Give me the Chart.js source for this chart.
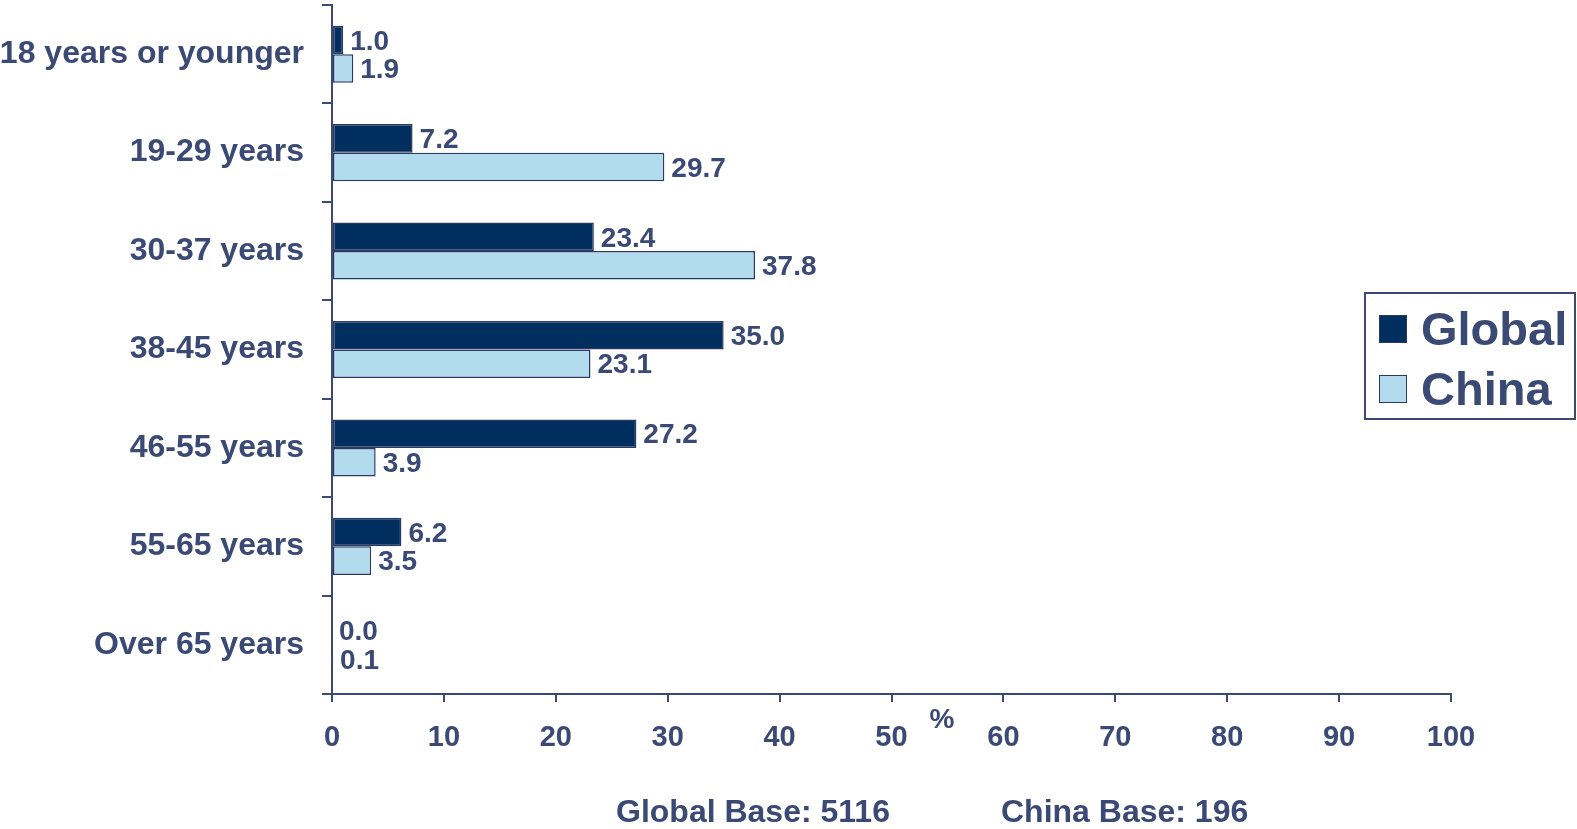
<!DOCTYPE html>
<html>
<head>
<meta charset="utf-8">
<script src="https://cdn.jsdelivr.net/npm/chart.js@4"></script>
<style>
  html, body { margin: 0; padding: 0; background: #fff; }
  #wrap { position: relative; width: 1577px; height: 829px; }
  #legend {
    position: absolute; left: 1364px; top: 292px; width: 208px; height: 124px;
    border: 2px solid #3a4a74; box-sizing: content-box;
    font: bold 47px "Liberation Sans", Arial, sans-serif; color: #3a4a74;
  }
  #legend div { position: absolute; left: 13px; height: 54px; line-height: 54px; }
  #legend span.sw {
    display: inline-block; width: 26px; height: 26px; border: 1.5px solid #2b3a62;
    vertical-align: middle; margin-right: 14px; position: relative; top: -4px;
  }
  .base {
    position: absolute; top: 793px;
    font: bold 32px "Liberation Sans", Arial, sans-serif; color: #3a4a74;
  }
</style>
</head>
<body>
<div id="wrap">
  <canvas id="ageChart" width="1577" height="829"></canvas>
  <div id="legend">
    <div style="top:8px"><span class="sw" style="background:#002f5f"></span>Global</div>
    <div style="top:68px"><span class="sw" style="background:#b2dcee"></span>China</div>
  </div>
  <div class="base" style="left:616px">Global Base: 5116</div>
  <div class="base" style="left:1001px">China Base: 196</div>
</div>
<script>
const categories = [
  '18 years or younger',
  '19-29 years',
  '30-37 years',
  '38-45 years',
  '46-55 years',
  '55-65 years',
  'Over 65 years'
];
const globalValues = [1.0, 7.2, 23.4, 35.0, 27.2, 6.2, 0.0];
const chinaValues = [1.9, 29.7, 37.8, 23.1, 3.9, 3.5, 0.1];
const xTicks = [0, 10, 20, 30, 40, 50, 60, 70, 80, 90, 100];

const textColor = '#3a4a74';
const fontFamily = '"Liberation Sans", Arial, sans-serif';

const valueLabels = {
  id: 'valueLabels',
  afterDatasetsDraw(chart) {
    const c = chart.ctx;
    c.save();
    c.fillStyle = textColor;
    c.font = 'bold 28px ' + fontFamily;
    c.textBaseline = 'middle';
    c.textAlign = 'left';
    chart.data.datasets.forEach((ds, i) => {
      chart.getDatasetMeta(i).data.forEach((bar, j) => {
        c.fillText(ds.data[j].toFixed(1), bar.x + 7, bar.y + 2);
      });
    });
    // percent sign near the axis
    const xs = chart.scales.x;
    c.textAlign = 'center';
    c.fillText('%', xs.getPixelForValue(54.5), xs.top + 26);
    c.restore();
  }
};

new Chart(document.getElementById('ageChart'), {
  type: 'bar',
  data: {
    labels: categories,
    datasets: [{
      label: 'Global',
      data: globalValues,
      backgroundColor: '#002f5f',
      borderColor: '#2b3a62',
      borderWidth: 1.5,
      borderSkipped: false
    }, {
      label: 'China',
      data: chinaValues,
      backgroundColor: '#b2dcee',
      borderColor: '#2b3a62',
      borderWidth: 1.5,
      borderSkipped: false
    }]
  },
  options: {
    indexAxis: 'y',
    responsive: false,
    animation: false,
    layout: { padding: { top: 5, right: 126, left: 0, bottom: 0 } },
    plugins: { legend: { display: false }, tooltip: { enabled: false } },
    datasets: { bar: { categoryPercentage: 0.58, barPercentage: 1.0 } },
    scales: {
      x: {
        min: 0,
        max: 100,
        afterBuildTicks: s => { s.ticks = xTicks.map(v => ({ value: v })); },
        afterFit: s => { s.height = 135; s.paddingLeft = 0; s.paddingRight = 0; },
        border: { color: '#3a4a74', width: 2 },
        grid: { drawOnChartArea: false, color: '#3a4a74', lineWidth: 2, tickLength: 8 },
        ticks: { color: textColor, font: { family: fontFamily, size: 29, weight: 'bold' }, padding: 19, maxRotation: 0 }
      },
      y: {
        afterFit: s => { s.width = 332; s.paddingTop = 0; s.paddingBottom = 0; },
        border: { color: '#3a4a74', width: 2 },
        grid: { drawOnChartArea: false, color: '#3a4a74', lineWidth: 2, tickLength: 10, offset: true },
        ticks: { color: textColor, font: { family: fontFamily, size: 32, weight: 'bold' }, padding: 18 }
      }
    }
  },
  plugins: [valueLabels]
});
</script>
</body>
</html>
